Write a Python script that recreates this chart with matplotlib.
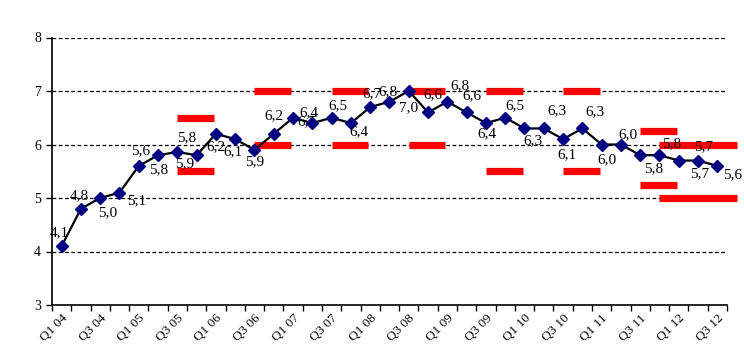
import matplotlib
matplotlib.use("Agg")
import matplotlib.pyplot as plt
import numpy as np

# ---- data ----
quarters = [f"Q{q} {y:02d}" for y in range(4, 13) for q in range(1, 5)][:35]
values = [4.1, 4.8, 5.0, 5.1, 5.6, 5.8, 5.86, 5.8, 6.2, 6.1, 5.9, 6.2,
          6.5, 6.4, 6.5, 6.4, 6.7, 6.8, 7.0, 6.6, 6.8, 6.6, 6.4, 6.5,
          6.3, 6.3, 6.1, 6.3, 6.0, 6.0, 5.8, 5.8, 5.7, 5.7, 5.6]

# forecast ranges (red bars): start category, end category, high, low
range_start = [6, 10, 14, 18, 22, 26, 30, 31]
range_end = [7.9, 11.9, 15.9, 19.9, 23.9, 27.9, 31.9, 35.0]
range_high = [6.5, 7.0, 7.0, 7.0, 7.0, 7.0, 6.25, 6.0]
range_low = [5.5, 6.0, 6.0, 6.0, 5.5, 5.5, 5.25, 5.0]

# label offsets (pixels, dx right, dy down)
label_off = [(-2, -13), (-2, -13), (7, 15), (17, 8), (2, -15), (1, 14), (7, 12), (-10, -18),
             (0, 13), (-2, 13), (0, 12), (0, -18), (14, 4), (-3, -10), (6, -12), (8, 9),
             (2, -13), (-2, -10), (0, 17), (5, -18), (13, -16), (5, -17), (1, 11), (10, -12),
             (8, 12), (13, -18), (4, 16), (13, -17), (5, 15), (7, -10), (13, 13), (12, -12),
             (25, -14), (2, 13), (15, 9)]

plt.rcParams['font.family'] = ['Liberation Serif', 'DejaVu Serif']

fig = plt.figure(figsize=(7.44, 3.6), dpi=100)
ax = fig.add_axes([52/744, 1-305/360, (727-52)/744, (305-37.5)/360])

x = np.arange(len(values))

# gridlines
for g in [4, 5, 6, 7, 8]:
    ax.axhline(g, color='black', linestyle=(0, (3, 2)), linewidth=0.9, zorder=1)

# red range bars
for s, e, h, l in zip(range_start, range_end, range_high, range_low):
    ax.hlines([h, l], s, e, colors='#ff0000', linewidth=5.2, zorder=2, clip_on=False)

ax.plot(x, values, color='black', linewidth=1.6, marker='D', markersize=6.5,
        markerfacecolor='#000080', markeredgecolor='#000080', zorder=4)

for xi, v, (dx, dy) in zip(x, values, label_off):
    ax.annotate(f"{v:.1f}".replace('.', ','), (xi, v), xytext=(dx, -dy),
                textcoords='offset pixels', ha='center', va='center',
                fontsize=11, color='black', zorder=3)

ax.set_xlim(-0.5, len(values) - 0.5)
ax.set_ylim(3, 8)
ax.set_yticks([3, 4, 5, 6, 7, 8])
ax.set_yticklabels(['3', '4', '5', '6', '7', '8'], fontsize=10)

# x ticks at category boundaries, labels every other category
ax.set_xticks(np.arange(-0.5, len(values), 1.0))
ax.set_xticklabels([])
ax.set_xticks(x[::2], minor=True)
ax.set_xticklabels(quarters[::2], minor=True, rotation=45, ha='right', va='top',
                   rotation_mode='anchor', fontsize=9.5)
ax.tick_params(axis='x', which='minor', length=0, pad=5)
ax.tick_params(axis='x', which='major', length=4, width=1, direction='out')
ax.tick_params(axis='y', length=4, width=1, direction='out', pad=4)

for sp in ['top', 'right']:
    ax.spines[sp].set_visible(False)
for sp in ['left', 'bottom']:
    ax.spines[sp].set_linewidth(1.2)

fig.savefig('out.png', dpi=100)
